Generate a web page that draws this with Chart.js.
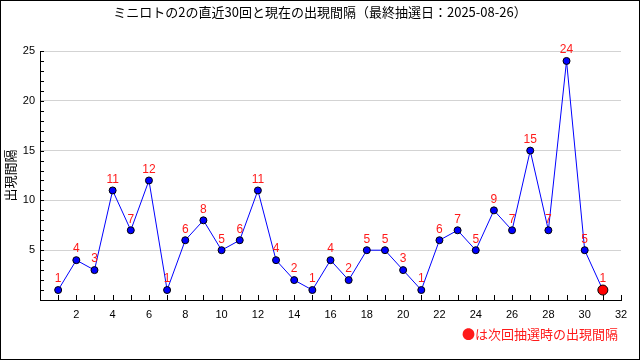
<!DOCTYPE html>
<html>
<head>
<meta charset="utf-8">
<script src="https://cdn.jsdelivr.net/npm/chart.js@4/dist/chart.umd.min.js"></script>
<style>
  html, body { margin: 0; padding: 0; background: #fff; }
  #wrap { width: 640px; height: 360px; position: relative; }
</style>
</head>
<body>
<div id="wrap"><canvas id="chart-gaps" width="640" height="360"></canvas></div>
<script>
// ミニロト 2 の出現間隔
const chartTitle = "ミニロトの2の直近30回と現在の出現間隔（最終抽選日：2025-08-26）";
const yTitle = "出現間隔";
const noteText = "●は次回抽選時の出現間隔";
const drawNo = [1,2,3,4,5,6,7,8,9,10,11,12,13,14,15,16,17,18,19,20,21,22,23,24,25,26,27,28,29,30];
const gaps = [1,4,3,11,7,12,1,6,8,5,6,11,4,2,1,4,2,5,5,3,1,6,7,5,9,7,15,7,24,5];
const currentNo = 31;
const currentGap = 1;

const JP = '"Noto Sans CJK JP", sans-serif';
const NUM = '"Liberation Sans", Arial, sans-serif';
const BLUE = "#0000ff";
const RED = "#ff1a1a";

const points = drawNo.map((n, i) => ({ x: n, y: gaps[i] }));
points.push({ x: currentNo, y: currentGap });
const lastIdx = points.length - 1;

// frame, title, inward tick marks, value labels, note
const decorations = {
  id: "decorations",
  beforeDatasetsDraw(chart) {
    const { ctx, chartArea, scales } = chart;
    ctx.save();
    ctx.strokeStyle = "#000";
    ctx.lineWidth = 1;
    ctx.beginPath();
    for (let v = 1; v <= 25; v++) {
      const y = Math.round(scales.y.getPixelForValue(v)) + 0.5;
      ctx.moveTo(chartArea.left, y);
      ctx.lineTo(chartArea.left + 4, y);
    }
    for (let v = 1; v <= 32; v++) {
      const x = Math.round(scales.x.getPixelForValue(v)) + 0.5;
      ctx.moveTo(x, chartArea.bottom);
      ctx.lineTo(x, chartArea.bottom - 5);
    }
    ctx.stroke();
    ctx.restore();
  },
  afterDraw(chart) {
    const { ctx, width, height } = chart;
    ctx.save();
    ctx.strokeStyle = "#000";
    ctx.lineWidth = 1;
    ctx.strokeRect(0.5, 0.5, width - 1, height - 1);

    ctx.fillStyle = "#000";
    ctx.font = "13px " + JP;
    ctx.textAlign = "center";
    ctx.textBaseline = "middle";
    ctx.fillText(chartTitle, width / 2, 12);

    const meta = chart.getDatasetMeta(0);
    ctx.fillStyle = RED;
    ctx.font = "12px " + NUM;
    meta.data.forEach((el, i) => {
      ctx.fillText(String(points[i].y), el.x, el.y - 11);
    });

    ctx.font = "13px " + JP;
    ctx.textAlign = "right";
    ctx.fillText(noteText, 618, 334);
    ctx.restore();
  }
};

new Chart(document.getElementById("chart-gaps"), {
  type: "line",
  data: {
    datasets: [{
      data: points,
      borderColor: BLUE,
      borderWidth: 1,
      tension: 0,
      fill: false,
      pointBackgroundColor: c => c.dataIndex === lastIdx ? "#ff0000" : BLUE,
      pointBorderColor: "#000",
      pointBorderWidth: 1,
      pointRadius: c => c.dataIndex === lastIdx ? 5 : 3.5,
      pointHoverRadius: c => c.dataIndex === lastIdx ? 5 : 3.5,
    }]
  },
  options: {
    responsive: false,
    animation: false,
    layout: { padding: { top: 51, right: 19, left: 0, bottom: 0 } },
    plugins: { legend: { display: false }, title: { display: false }, tooltip: { enabled: false } },
    scales: {
      x: {
        type: "linear",
        min: 0,
        max: 32,
        afterFit: s => { s.height = 60; },
        grid: { display: false, drawTicks: false },
        border: { display: true, color: "#000", width: 1 },
        ticks: {
          stepSize: 1,
          autoSkip: false,
          maxRotation: 0,
          padding: 8,
          color: "#000",
          font: { family: NUM, size: 11 },
          callback: v => (v > 0 && v % 2 === 0) ? v : ""
        }
      },
      y: {
        min: 0,
        max: 25,
        afterFit: s => { s.width = 40; },
        grid: {
          drawTicks: false,
          color: c => (c.tick && c.tick.value > 0 && c.tick.value % 5 === 0) ? "#d3d3d3" : "rgba(0,0,0,0)"
        },
        border: { display: true, color: "#000", width: 1 },
        title: {
          display: true,
          text: yTitle,
          color: "#000",
          font: { family: JP, size: 13 },
          padding: { top: 2, bottom: 0 }
        },
        ticks: {
          stepSize: 1,
          autoSkip: false,
          padding: 5,
          color: "#000",
          font: { family: NUM, size: 11 },
          callback: v => (v > 0 && v % 5 === 0) ? v : ""
        }
      }
    }
  },
  plugins: [decorations]
});
</script>
</body>
</html>
